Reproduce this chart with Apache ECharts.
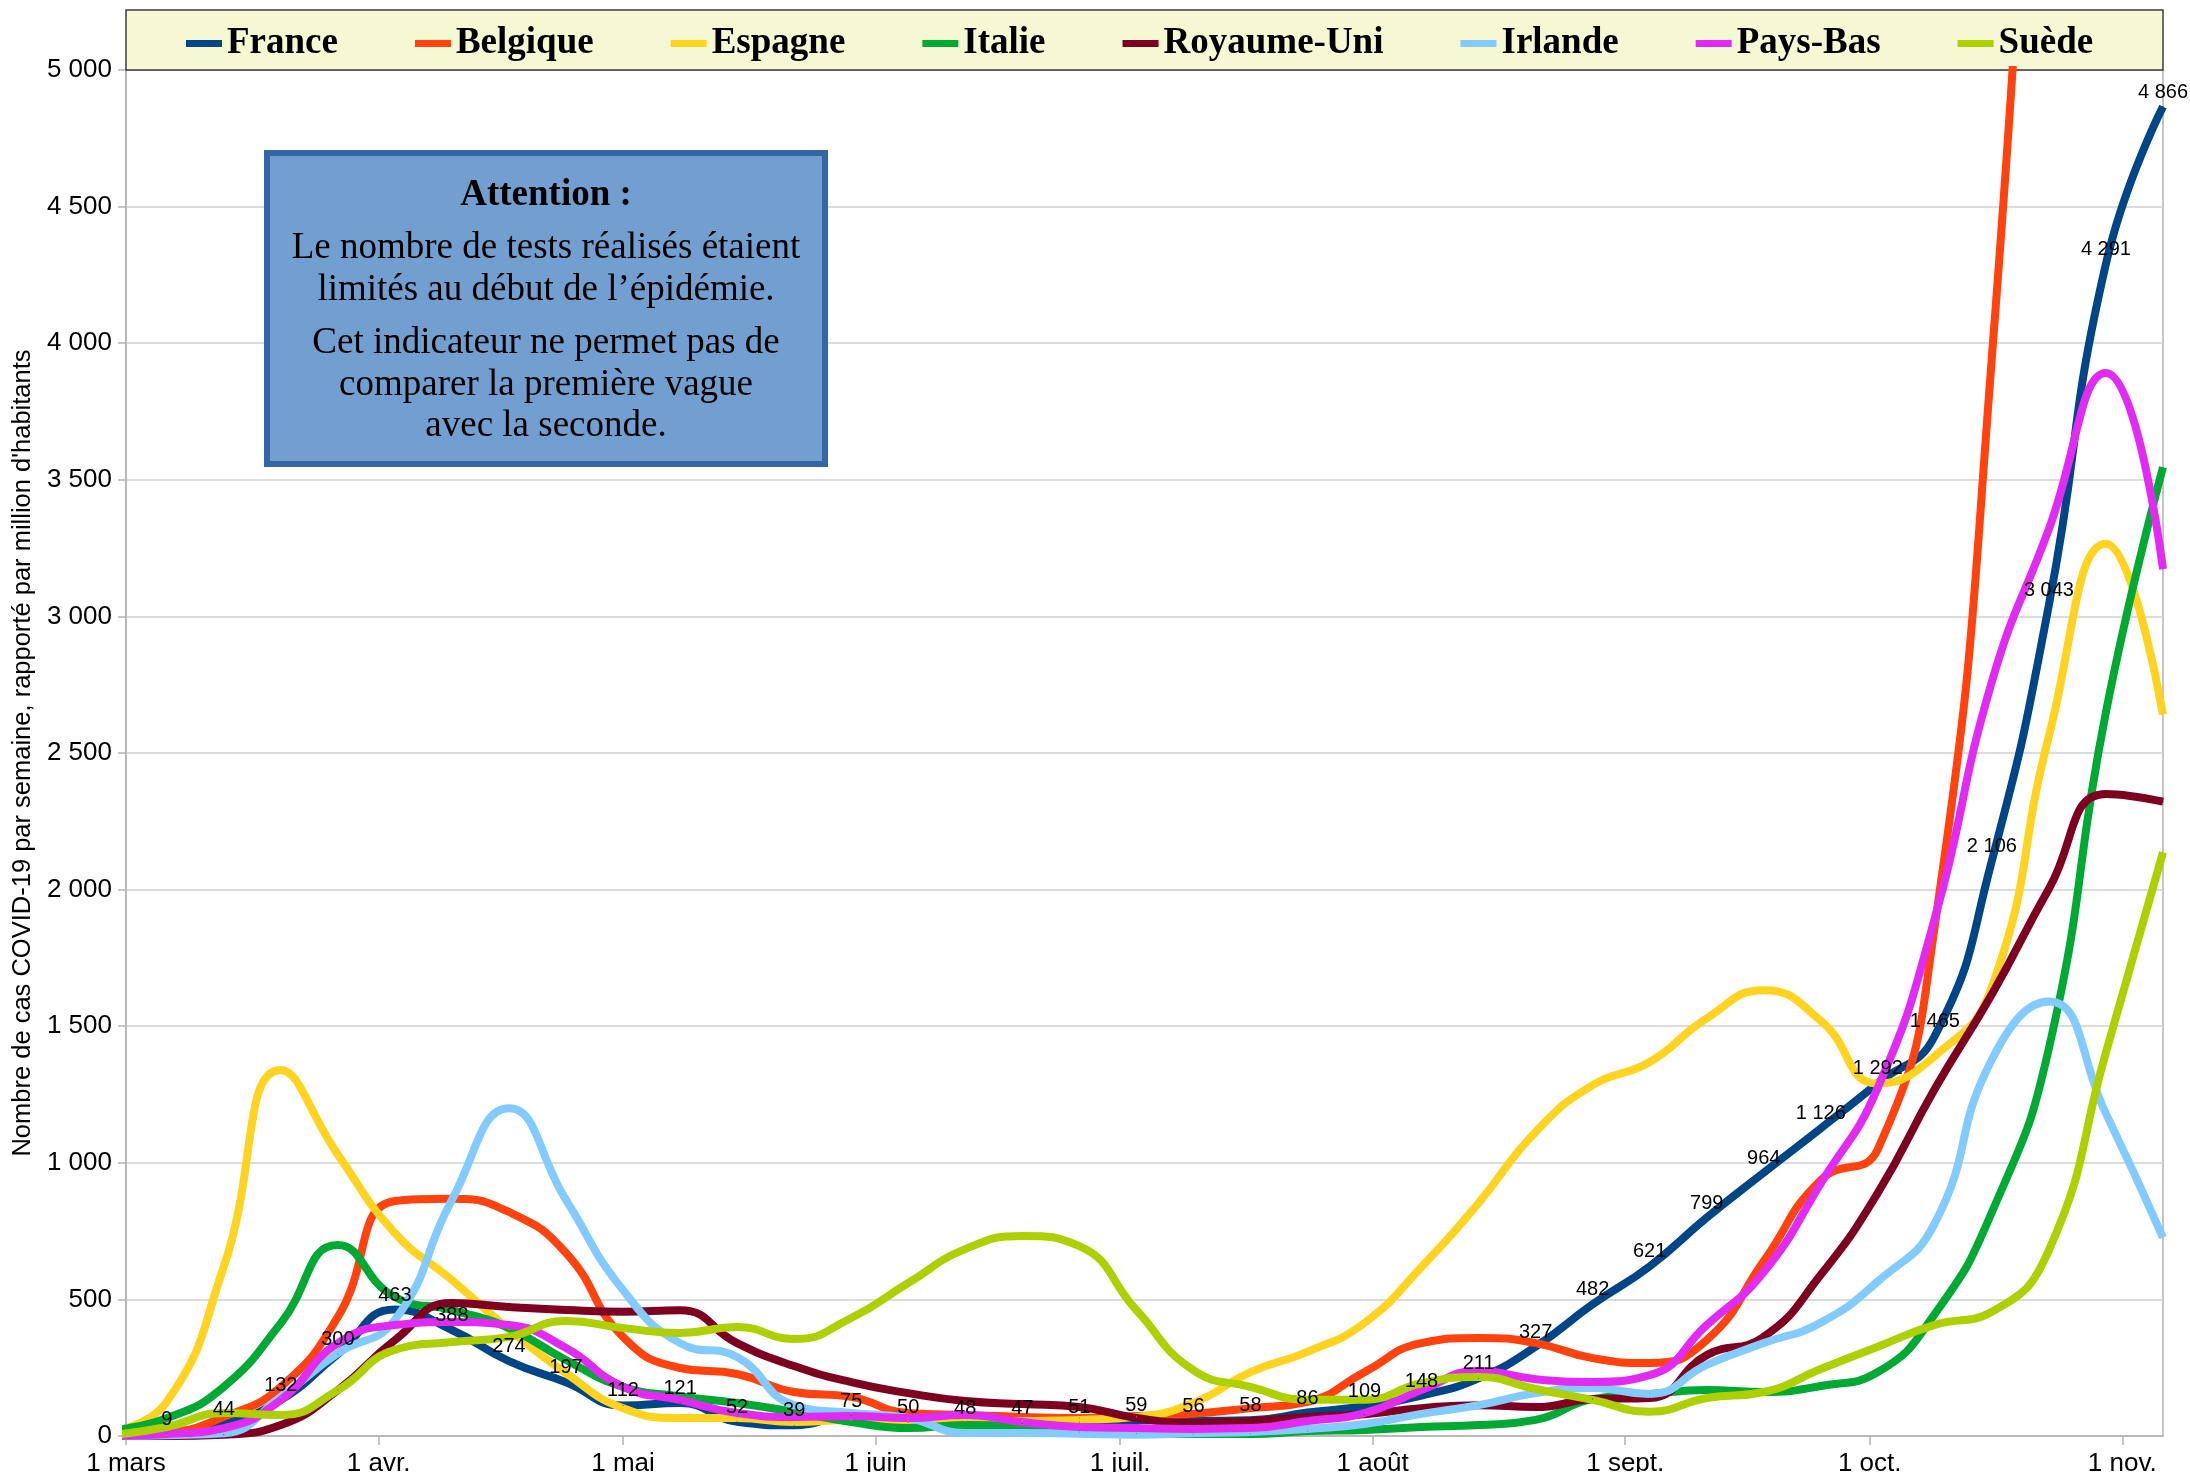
<!DOCTYPE html>
<html>
<head>
<meta charset="utf-8">
<script src="https://cdn.jsdelivr.net/npm/echarts@6/dist/echarts.min.js"></script>
<style>
  html, body { margin: 0; padding: 0; background: #fff; }
  #main { width: 2190px; height: 1472px; }
</style>
</head>
<body>
<div id="main"></div>
<script>
  // semaines (date de fin), la première est avant le 1er mars et coupée par l'axe
  const dates = ['2020-02-28', '2020-03-06', '2020-03-13', '2020-03-20', '2020-03-27', '2020-04-03',
    '2020-04-10', '2020-04-17', '2020-04-24', '2020-05-01', '2020-05-08', '2020-05-15', '2020-05-22',
    '2020-05-29', '2020-06-05', '2020-06-12', '2020-06-19', '2020-06-26', '2020-07-03', '2020-07-10',
    '2020-07-17', '2020-07-24', '2020-07-31', '2020-08-07', '2020-08-14', '2020-08-21', '2020-08-28',
    '2020-09-04', '2020-09-11', '2020-09-18', '2020-09-25', '2020-10-02', '2020-10-09', '2020-10-16',
    '2020-10-23', '2020-10-30', '2020-11-06']

  const france = [2, 9, 44, 132, 300, 463, 388, 274, 197, 112, 121, 52, 39, 75, 50, 48, 47, 51, 59, 56,
    58, 86, 109, 148, 211, 327, 482, 621, 799, 964, 1126, 1292, 1465, 2106, 3043, 4291, 4866]
  const belgique = [0, 11, 70, 180, 436, 860, 868, 820, 670, 363, 249, 227, 161, 143, 84, 77, 70, 66, 73, 81,
    102, 125, 234, 340, 359, 340, 285, 267, 351, 640, 937, 1050, 1870, 3950, 7300, 10500, 9000]
  const espagne = [15, 125, 620, 1340, 1030, 743, 571, 390, 230, 102, 66, 66, 51, 59, 55, 51, 55, 59, 70, 121,
    234, 308, 414, 619, 853, 1113, 1284, 1369, 1529, 1632, 1520, 1290, 1391, 1644, 2562, 3266, 2641]
  const italie = [20, 65, 180, 413, 699, 509, 461, 395, 278, 180, 145, 121, 88, 51, 29, 40, 33, 15, 10, 7,
    7, 18, 22, 33, 40, 59, 135, 154, 168, 161, 183, 234, 447, 819, 1420, 2650, 3546]
  const royaumeUni = [0, 0, 5, 40, 168, 351, 487, 472, 461, 455, 460, 340, 256, 197, 157, 128, 117, 106, 66, 48,
    55, 70, 80, 102, 113, 106, 135, 139, 296, 363, 590, 890, 1271, 1617, 2003, 2350, 2322]
  const irlande = [0, 3, 10, 143, 303, 425, 864, 1200, 864, 534, 340, 289, 113, 84, 66, 11, 11, 8, 5, 10,
    15, 26, 44, 81, 113, 157, 176, 154, 260, 340, 415, 566, 779, 1378, 1590, 1180, 726]
  const paysBas = [0, 7, 29, 132, 340, 406, 417, 406, 322, 180, 132, 84, 70, 73, 66, 77, 51, 33, 29, 26,
    29, 55, 84, 168, 238, 208, 198, 223, 406, 600, 925, 1275, 1896, 2761, 3320, 3891, 3173]
  const suede = [2, 33, 84, 77, 168, 315, 344, 363, 421, 395, 377, 399, 355, 432, 560, 684, 732, 695, 461, 241,
    180, 133, 133, 193, 216, 172, 132, 89, 139, 161, 245, 327, 407, 455, 680, 1404, 2136]

  const pays = ['France', 'Belgique', 'Espagne', 'Italie', 'Royaume-Uni', 'Irlande', 'Pays-Bas', 'Suède']
  const couleurs = ['#004586', '#ff420e', '#ffd320', '#00a933', '#7e0021', '#83caff', '#e22bf2', '#aecf00']
  const valeurs = [france, belgique, espagne, italie, royaumeUni, irlande, paysBas, suede]

  const moisDates = ['2020-03-01', '2020-04-01', '2020-05-01', '2020-06-01', '2020-07-01', '2020-08-01',
    '2020-09-01', '2020-10-01', '2020-11-01']
  const moisLabels = ['1 mars', '1 avr.', '1 mai', '1 juin', '1 juil.', '1 août', '1 sept.', '1 oct.', '1 nov.']

  const note = ['Le nombre de tests réalisés étaient', 'limités au début de l’épidémie.',
    'Cet indicateur ne permet pas de', 'comparer la première vague', 'avec la seconde.']
  const noteY = [248, 290, 343, 385, 426]

  const origine = Date.parse('2020-03-01')
  function jour(s) { return Math.round((Date.parse(s) - origine) / 86400000) }
  const jours = dates.map(jour)
  const moisJours = moisDates.map(jour)

  function fmt(v) {
    return String(Math.round(v)).replace(/\B(?=(\d{3})+(?!\d))/g, ' ')
  }

  function texte(t, y, bold) {
    return {
      type: 'text', x: 546, y: y, z: 11,
      style: {
        text: t, font: (bold ? 'bold ' : '') + '37px "Liberation Serif"', fill: '#000',
        textAlign: 'center', textVerticalAlign: 'middle', align: 'center', verticalAlign: 'middle'
      }
    }
  }

  const myChart = echarts.init(document.getElementById('main'))

  const option = {
    backgroundColor: '#ffffff',
    animation: false,
    grid: { left: 126, right: 27, top: 70, bottom: 36, containLabel: false, outerBoundsMode: 'none',
      show: true, borderColor: '#b3b3b3', borderWidth: 1.5 },
    legend: {
      data: pays,
      left: 186, top: 25, padding: 0, z: 5,
      icon: 'rect', itemWidth: 36, itemHeight: 7, itemGap: 77,
      textStyle: { fontFamily: 'Liberation Serif', fontWeight: 'bold', fontSize: 37, color: '#000' }
    },
    xAxis: {
      type: 'value', min: 0, max: 250,
      splitLine: { show: false },
      axisLine: { lineStyle: { color: '#b3b3b3', width: 1.5 } },
      axisTick: { customValues: moisJours, length: 9, lineStyle: { color: '#b3b3b3', width: 1.5 } },
      axisLabel: {
        customValues: moisJours,
        formatter: function (v) { return moisLabels[moisJours.indexOf(v)] },
        fontFamily: 'Liberation Sans', fontSize: 26, color: '#000', margin: 15
      }
    },
    yAxis: {
      type: 'value', min: 0, max: 5000, interval: 500,
      name: "Nombre de cas COVID-19 par semaine, rapporté par million d'habitants",
      nameLocation: 'middle', nameGap: 89,
      nameTextStyle: { fontFamily: 'Liberation Sans', fontSize: 25.5, color: '#000' },
      axisLine: { show: true, lineStyle: { color: '#b3b3b3', width: 1.5 } },
      axisTick: { show: true, length: 8, lineStyle: { color: '#b3b3b3', width: 1.5 } },
      axisLabel: { formatter: fmt, fontFamily: 'Liberation Sans', fontSize: 26, color: '#000', margin: 14 },
      splitLine: { lineStyle: { color: '#d0d0d0', width: 1.5 } }
    },
    graphic: [
      {
        type: 'rect', z: 3,
        shape: { x: 126, y: 10, width: 2037, height: 60 },
        style: { fill: '#f6f8d3', stroke: '#3c3c3c', lineWidth: 1.5 }
      },
      {
        type: 'rect', z: 10,
        shape: { x: 267, y: 153, width: 558, height: 311 },
        style: { fill: '#729fcf', stroke: '#3465a4', lineWidth: 6 }
      },
      texte('Attention :', 195, true)
    ].concat(note.map(function (t, i) { return texte(t, noteY[i], false) })),
    series: pays.map(function (nom, i) {
      return {
        name: nom,
        type: 'line',
        smooth: true,
        clip: true,
        symbol: 'circle',
        symbolSize: 1,
        showSymbol: true,
        data: jours.map(function (d, j) { return [d, valeurs[i][j]] }),
        lineStyle: { width: 8, color: couleurs[i] },
        itemStyle: { color: couleurs[i] },
        emphasis: { disabled: true },
        label: i === 0 ? {
          show: true, position: 'top', distance: 4,
          fontFamily: 'Liberation Sans', fontSize: 20, color: '#000',
          formatter: function (p) { return p.dataIndex === 0 ? '' : fmt(p.value[1]) }
        } : { show: false }
      }
    })
  }

  myChart.setOption(option, true)
</script>
</body>
</html>
